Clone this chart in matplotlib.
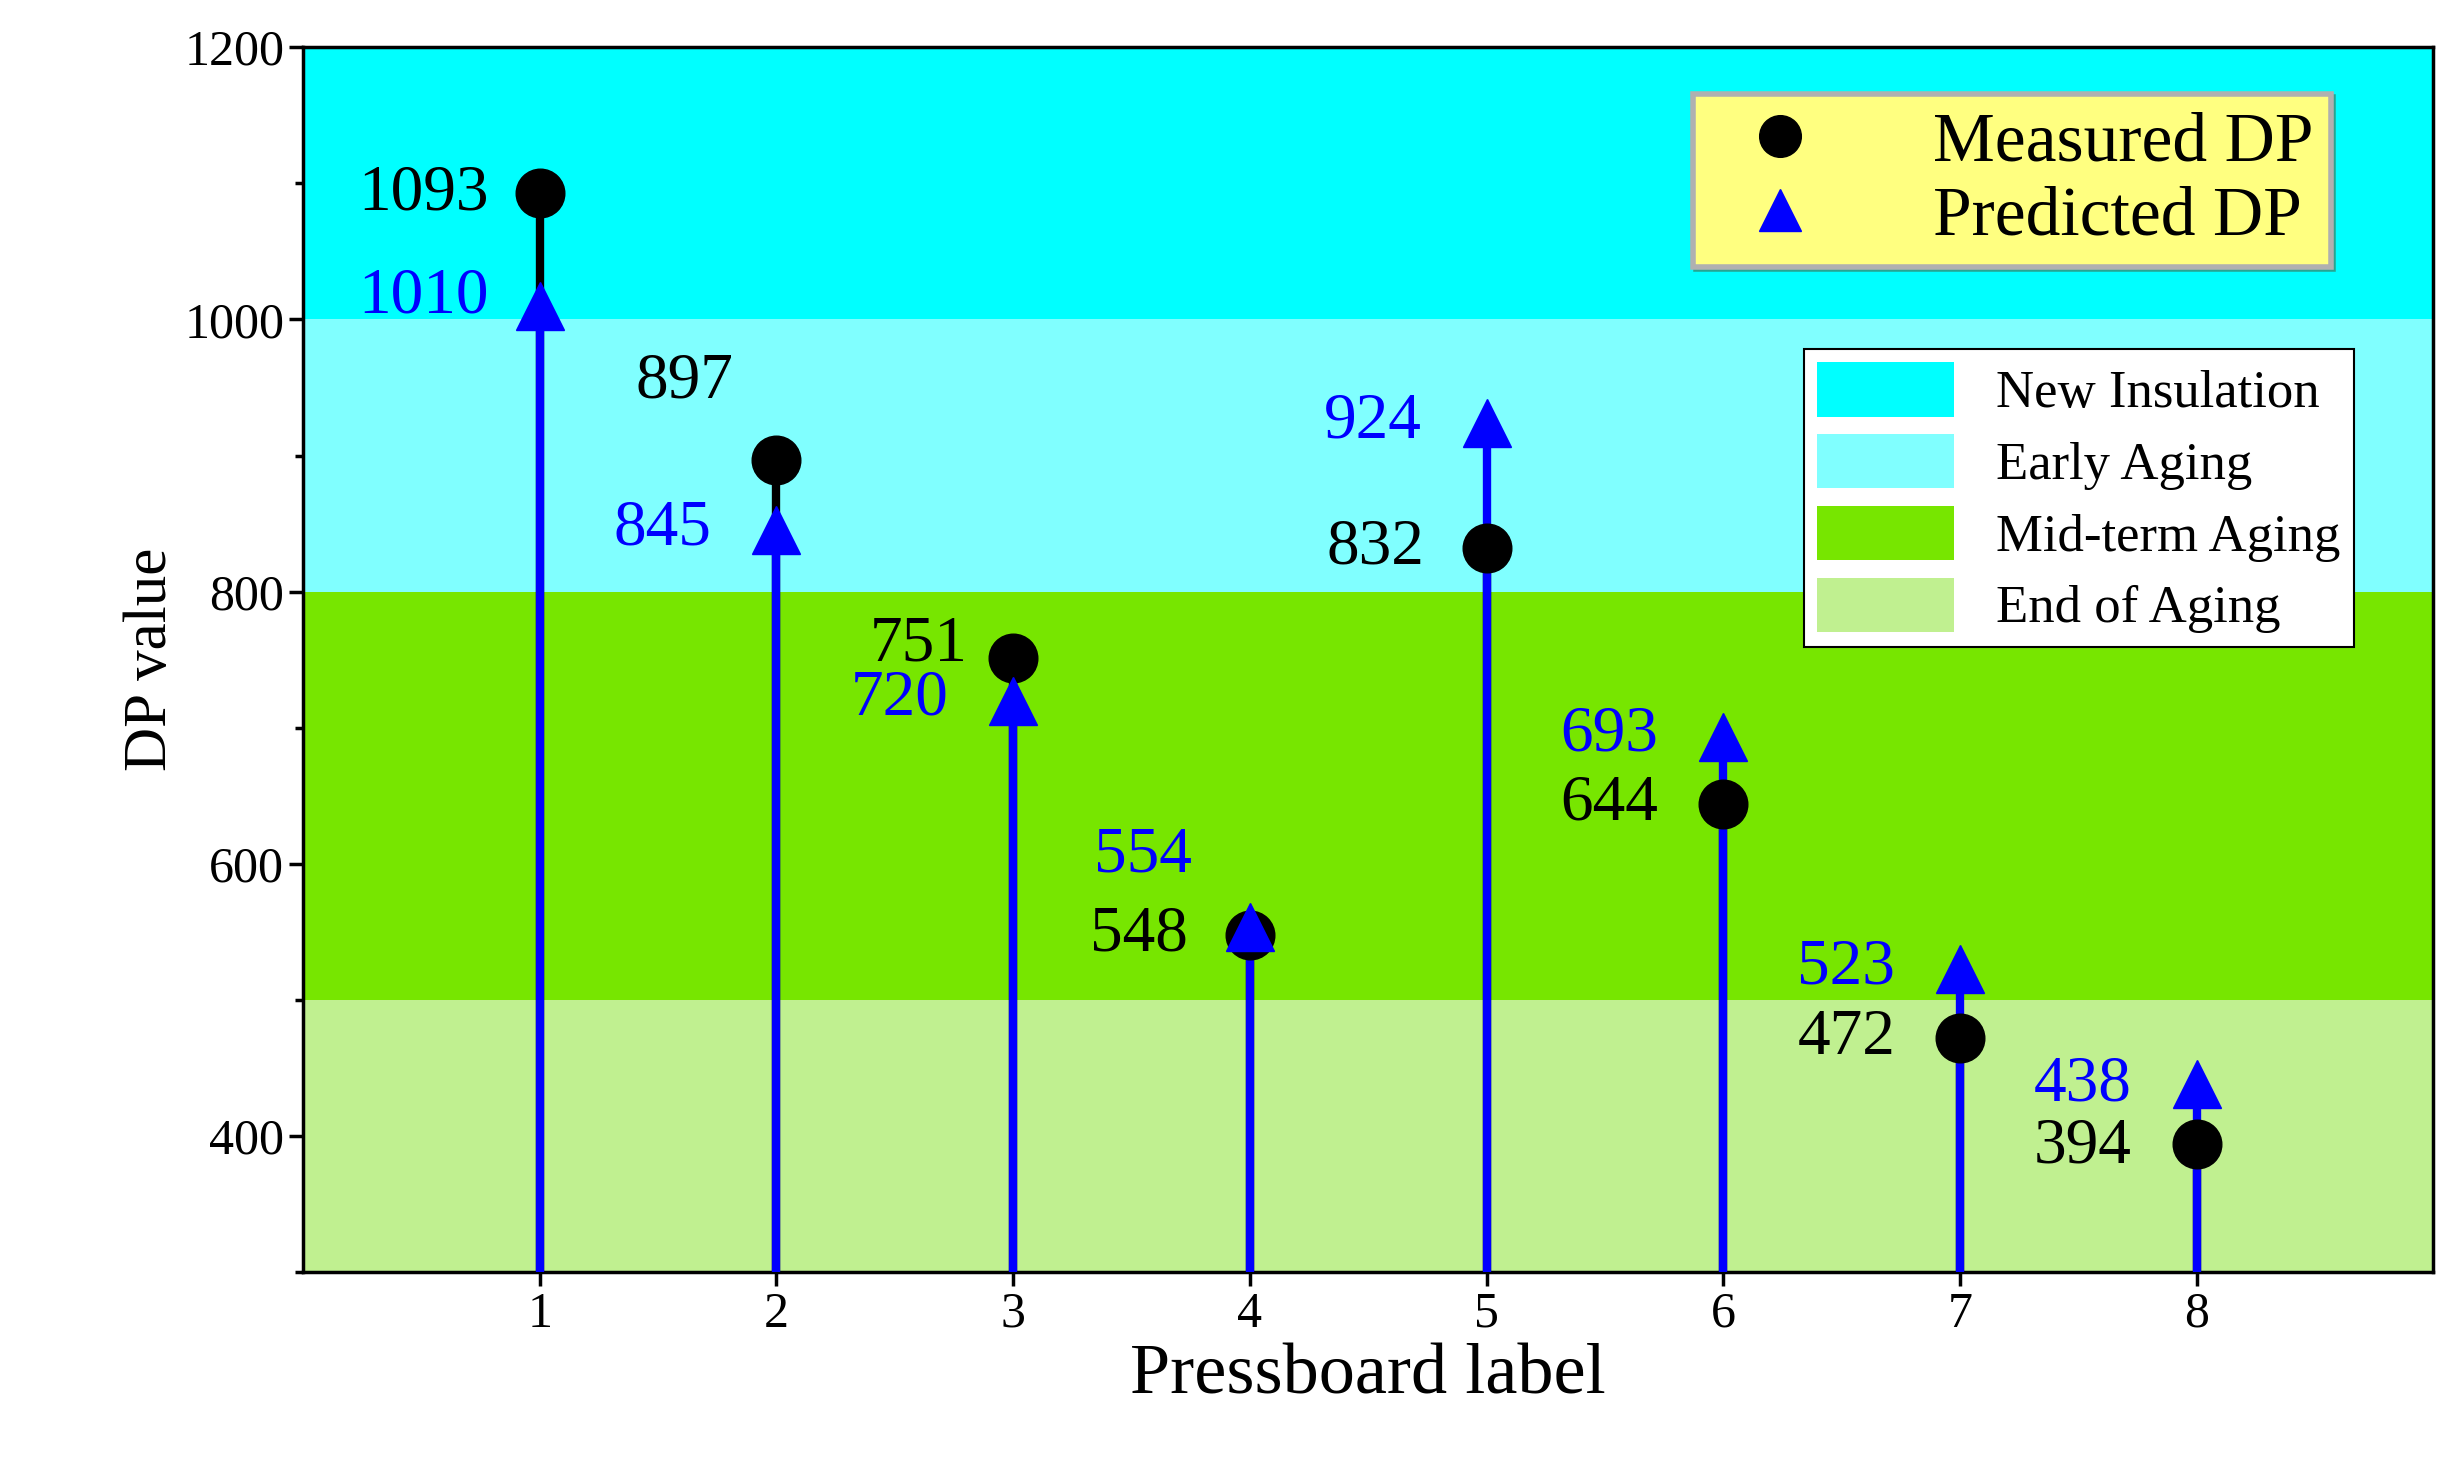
import matplotlib
matplotlib.use("Agg")
import matplotlib.pyplot as plt
from matplotlib.patches import Patch
from matplotlib.lines import Line2D

labels = [1, 2, 3, 4, 5, 6, 7, 8]
measured = [1093, 897, 751, 548, 832, 644, 472, 394]
predicted = [1010, 845, 720, 554, 924, 693, 523, 438]
bands = [(1000, 1200, "#00FFFF", "New Insulation"),
         (800, 1000, "#80FFFF", "Early Aging"),
         (500, 800, "#77E600", "Mid-term Aging"),
         (300, 500, "#C0F090", "End of Aging")]
# text label positions (x, y) for measured / predicted annotations
m_pos = [(0.51, 1092), (1.61, 954), (2.6, 761), (3.53, 548), (4.53, 832), (5.52, 644), (6.52, 472), (7.52, 392)]
p_pos = [(0.51, 1017), (1.52, 846), (2.52, 721), (3.55, 606), (4.52, 925), (5.52, 695), (6.52, 524), (7.52, 438)]

plt.rcParams['font.family'] = ['Liberation Serif', 'DejaVu Serif']
fig = plt.figure(figsize=(24.63, 14.76), dpi=100)
ax = fig.add_axes([0.123, 0.138, 0.865, 0.83])
for lo, hi, c, _ in bands:
    ax.axhspan(lo, hi, color=c, zorder=0, lw=0)
ax.set_xlim(0, 9)
ax.set_ylim(300, 1200)

for x, m, p in zip(labels, measured, predicted):
    ax.plot([x, x], [300, m], color='black', lw=6, zorder=2)
    ax.plot([x, x], [300, p], color='blue', lw=6, zorder=3)
ax.plot(labels, measured, 'o', color='black', ms=35, zorder=4, ls='none')
ax.plot(labels, predicted, '^', color='blue', ms=35, zorder=5, ls='none')
for (x, y), v in zip(m_pos, measured):
    ax.text(x, y, str(v), color='black', fontsize=47, ha='center', va='center', zorder=6)
for (x, y), v in zip(p_pos, predicted):
    ax.text(x, y, str(v), color='blue', fontsize=47, ha='center', va='center', zorder=6)

ax.set_xticks(labels)
ax.set_yticks([400, 600, 800, 1000, 1200])
ax.set_yticks([300, 500, 700, 900, 1100], minor=True)
ax.tick_params(axis='both', labelsize=36, width=2.5, length=10, direction='out')
ax.tick_params(axis='y', which='minor', width=2.5, length=6)
for s in ax.spines.values():
    s.set_linewidth(2.5)
ax.set_xlabel("Pressboard label", fontsize=52)
ax.set_ylabel("DP value", fontsize=44)

h1 = [Line2D([], [], marker='o', color='black', ms=30, ls='none'),
      Line2D([], [], marker='^', color='blue', ms=30, ls='none')]
leg1 = ax.legend(h1, ["Measured DP", "Predicted DP"], loc='upper right',
                 bbox_to_anchor=(0.968, 0.99), fontsize=50, frameon=True,
                 fancybox=False, shadow=True, framealpha=1, handletextpad=1.2,
                 borderpad=0.25, labelspacing=0.15)
leg1.get_frame().set_facecolor('#FFFF80')
leg1.get_frame().set_edgecolor('#B0B0B0')
leg1.get_frame().set_linewidth(4)
ax.add_artist(leg1)
h2 = [Patch(facecolor=b[2], edgecolor='none') for b in bands]
leg2 = ax.legend(h2, [b[3] for b in bands], loc='upper right',
                 bbox_to_anchor=(0.975, 0.775), fontsize=38, frameon=True,
                 fancybox=False, framealpha=1, handlelength=2.6, handleheight=1.2,
                 borderpad=0.25, labelspacing=0.3)
leg2.get_frame().set_edgecolor('black')
leg2.get_frame().set_linewidth(1.5)
fig.savefig("out.png", dpi=100)
